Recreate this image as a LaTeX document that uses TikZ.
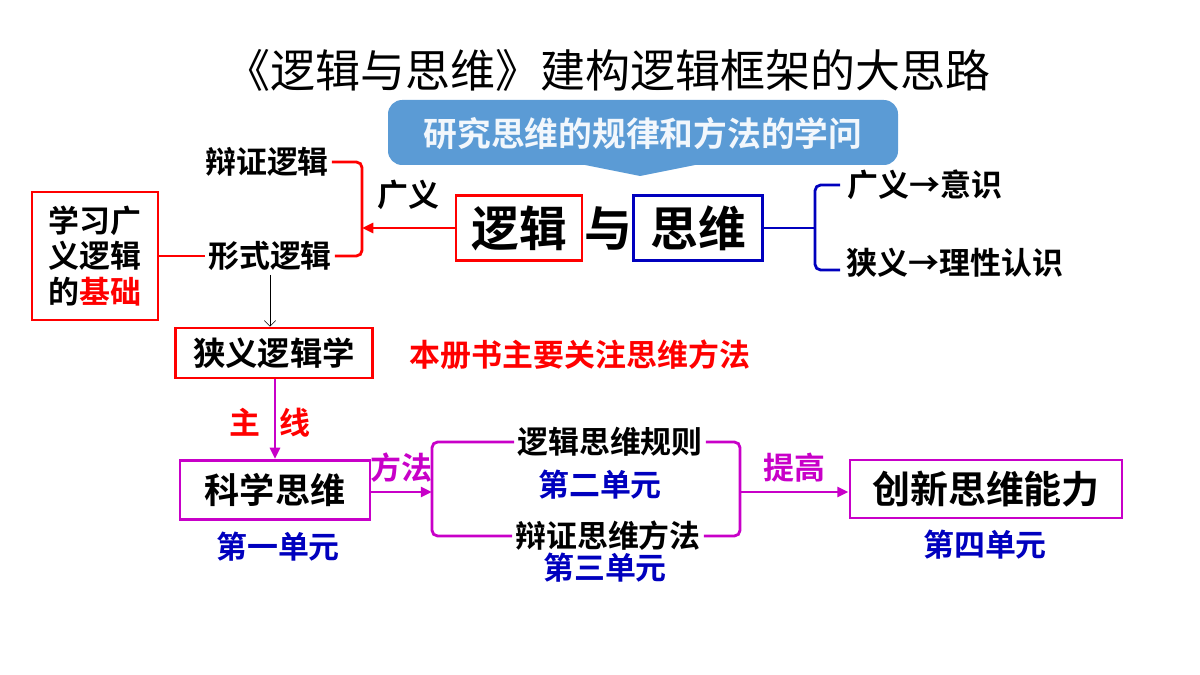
\documentclass[tikz,border=0pt]{standalone}
\usepackage{fontspec}
\setmainfont{Noto Sans CJK SC}
\newfontfamily\cjkb{Noto Sans CJK SC Bold}
\usetikzlibrary{shapes,arrows.meta}
\definecolor{myred}{RGB}{255,0,0}
\definecolor{myblue}{RGB}{0,0,190}
\definecolor{mymag}{RGB}{200,0,200}
\definecolor{banner}{RGB}{91,155,213}
\begin{document}
\begin{tikzpicture}[x=0.025cm, y=-0.025cm]

\tikzstyle{word} = [font=\cjkb\fontsize{22}{25}\selectfont, inner sep=0pt]
\tikzstyle{unit} = [word, text=myblue]
\tikzstyle{redbox} = [draw=myred, line width=2pt, inner sep=0pt]
\tikzstyle{magbox} = [draw=mymag, line width=2pt, inner sep=0pt]
\tikzstyle{brace} = [draw, line width=2pt, rounded corners=4pt]
\tikzstyle{line} = [draw, line width=2pt, -{Triangle[length=8pt,width=7pt]}]

\useasboundingbox (0,0) rectangle (1200,675);

\node [font=\fontsize{32}{34}\selectfont] (title) at (608,70) {《逻辑与思维》建构逻辑框架的大思路};

% banner
\fill [banner, rounded corners=10pt] (388,100) rectangle (898,165);
\fill [banner] (560,160) -- (640,176) -- (720,160) -- cycle;
\node [word, text=white!92!banner, font=\cjkb\fontsize{24}{26}\selectfont] (ban) at (643,134) {研究思维的规律和方法的学问};

% logic and thinking
\node [redbox, minimum width=3.15cm, minimum height=1.62cm] (luoji) at (519,228) {\cjkb\fontsize{34}{36}\selectfont 逻辑};
\node [word, font=\cjkb\fontsize{34}{36}\selectfont] (yu) at (608,228) {与};
\node [draw=myblue, line width=2pt, inner sep=0pt, minimum width=3.22cm, minimum height=1.62cm] (siwei) at (698,228) {\cjkb\fontsize{34}{36}\selectfont 思维};

\node [word] (yishi) at (925,185) {广义→意识};
\node [word] (renshi) at (955,263) {狭义→理性认识};
\coordinate (bj) at (815,228);
\path [brace, myblue] (siwei.east) -- (bj);
\path [brace, myblue] (840,185) -- (815,185) -- (815,270) -- (840,270);

% broad logic
\node [word] (bianzheng) at (267,162) {辩证逻辑};
\node [word] (xingshi) at (270,256) {形式逻辑};
\node [word] (guangyi) at (408,195) {广义};
\coordinate (rj) at (362,228);
\path [brace, myred] ([xshift=2pt]bianzheng.east) -| (rj) |- ([xshift=2pt]xingshi.east);
\path [line, myred] (luoji.west) -- (rj);

\node [redbox, minimum width=3.15cm, minimum height=3.2cm] (jichu) at (95,256) {};
\node [word, align=left] at (jichu) {学习广\\义逻辑\\的\textcolor{myred}{基础}};
\path [draw, myred, line width=2pt] (jichu.east) -- ([xshift=-2pt]xingshi.west);

\node [redbox, minimum width=4.92cm, minimum height=1.25cm] (xiayi) at (274,353) {\cjkb\fontsize{23}{25}\selectfont 狭义逻辑学};
\path [draw, thin, -{Straight Barb[length=4pt]}] (xingshi.south) ++(0,4) -- (xiayi.north -| xingshi.south);
\node [word, text=myred] (zhuyao) at (580,355) {本册书主要关注思维方法};

% thinking methods
\node [magbox, minimum width=4.75cm, minimum height=1.48cm] (kexue) at (275,490) {\cjkb\fontsize{25}{27}\selectfont 科学思维};
\node [unit] (u1) at (278,547) {第一单元};
\path [line, mymag] (xiayi.south -| kexue.north) -- (kexue.north);
\node [word, text=myred] (zhuxian) at (270,423) {主\hspace{0.6em}线};

\node [word] (guize) at (610,442) {逻辑思维规则};
\node [unit] (u2) at (600,485) {第二单元};
\node [word] (fangfa) at (608,536) {辩证思维方法};
\node [unit] (u3) at (605,568) {第三单元};
\coordinate (lb) at (432,492);
\coordinate (rb) at (740,492);
\path [brace, mymag] ([xshift=-2pt]guize.west) -| (lb) |- ([xshift=-2pt]fangfa.west);
\path [brace, mymag] ([xshift=2pt]guize.east) -| (rb) |- ([xshift=2pt]fangfa.east);

\node [magbox, minimum width=6.8cm, minimum height=1.45cm] (chuangxin) at (986,489) {\cjkb\fontsize{27}{29}\selectfont 创新思维能力};
\node [unit] (u4) at (985,545) {第四单元};

\path [line, mymag] (kexue.east |- lb) -- (lb) node [midway, above=6pt, word, text=mymag] {方法};
\path [line, mymag] (rb) -- (chuangxin.west |- rb) node [midway, above=6pt, word, text=mymag] {提高};
\end{tikzpicture}
\end{document}
